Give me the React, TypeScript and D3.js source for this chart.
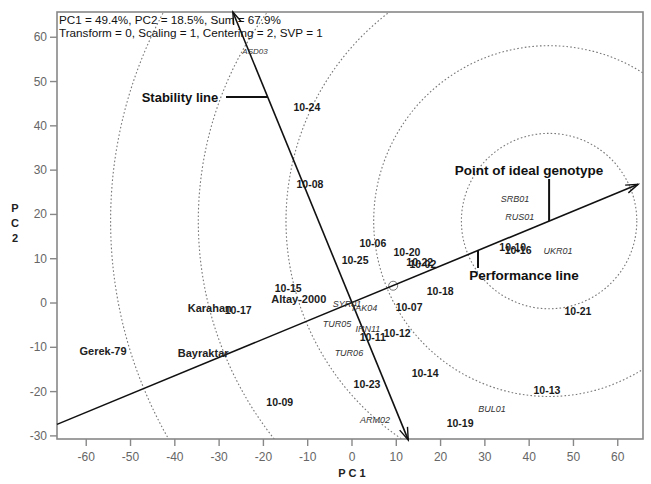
import React from "react";
import * as d3 from "d3";

// ---- Data ----
const headerLines = [
  "PC1 = 49.4%, PC2 = 18.5%, Sum = 67.9%",
  "Transform = 0, Scaling = 1, Centering = 2, SVP = 1",
];
const xTicks = [-60, -50, -40, -30, -20, -10, 0, 10, 20, 30, 40, 50, 60];
const yTicks = [-30, -20, -10, 0, 10, 20, 30, 40, 50, 60];

// breeding lines (bold)
const lineNames = ["10-24", "10-08", "10-06", "10-25", "10-20", "10-02", "10-22", "10-15", "10-17", "10-12", "10-11", "10-07", "10-18", "10-09", "10-23", "10-14", "10-19", "10-13", "10-21", "10-10", "10-16"];
const lineX = [-10.2, -9.5, 4.7, 0.7, 12.4, 16.0, 15.3, -14.4, -25.7, 10.2, 4.7, 12.9, 19.9, -16.3, 3.4, 16.5, 24.4, 44.0, 51.0, 36.3, 37.5];
const lineY = [44.2, 26.9, 13.5, 9.7, 11.5, 8.8, 9.3, 3.4, -1.6, -6.8, -7.7, -0.9, 2.7, -22.3, -18.3, -15.8, -27.1, -19.6, -1.8, 12.6, 12.0];

// cultivars
const cultivarNames = ["Altay-2000", "Karahan", "Bayraktar", "Gerek-79"];
const cultivarX = [-12.0, -32.1, -33.6, -56.2];
const cultivarY = [0.9, -1.1, -11.3, -10.8];

// landraces (italic)
const landraceNames = ["ASD03", "SYR01", "TAK04", "TUR05", "IRN11", "TUR06", "ARM02", "BUL01", "SRB01", "RUS01", "UKR01"];
const landraceX = [-21.9, -1.1, 2.7, -3.4, 3.6, -0.7, 5.2, 31.6, 36.8, 37.9, 46.5];
const landraceY = [56.7, -0.2, -1.1, -4.7, -5.9, -11.3, -26.4, -23.9, 23.5, 19.4, 11.7];

// average environment axis (performance line) and stability line end points
const perfStart = [-66.6, -27.4];
const perfEnd = [64.6, 26.8];
const stabStart = [12.7, -30.9];
const stabEnd = [-26.9, 65.7];
const idealPoint = [44.5, 18.5];
const meanEnv = [9.3, 3.9];
const circleRadii = [19.8, 39.6, 59.4, 79.2, 99.0];

const W = 651, H = 484;
const L = 57, R = 643, T = 12, B = 439;

export default function App() {
  const x = d3.scaleLinear().domain([-66.6, 65.7]).range([L, R]);
  const y = d3.scaleLinear().domain([-30.7, 65.7]).range([B, T]);
  const k = x(1) - x(0);

  const arrow = (from: number[], to: number[]) => {
    const x1 = x(from[0]), y1 = y(from[1]), x2 = x(to[0]), y2 = y(to[1]);
    const a = Math.atan2(y2 - y1, x2 - x1);
    const len = 13, ang = 0.33;
    const p1 = [x2 - len * Math.cos(a - ang), y2 - len * Math.sin(a - ang)];
    const p2 = [x2 - len * Math.cos(a + ang), y2 - len * Math.sin(a + ang)];
    return `M${p1[0]},${p1[1]}L${x2},${y2}L${p2[0]},${p2[1]}`;
  };

  const stabAtY = (py: number) => {
    const v = y.invert(py);
    const t = (v - stabStart[1]) / (stabEnd[1] - stabStart[1]);
    return x(stabStart[0] + t * (stabEnd[0] - stabStart[0]));
  };
  const perfAtX = (px: number) => {
    const v = x.invert(px);
    const t = (v - perfStart[0]) / (perfEnd[0] - perfStart[0]);
    return y(perfStart[1] + t * (perfEnd[1] - perfStart[1]));
  };

  const font = "'Liberation Sans', Arial, sans-serif";

  return (
    <svg width={W} height={H} style={{ position: "absolute", left: 0, top: 0, background: "#fff" }} fontFamily={font}>
      <defs>
        <clipPath id="plot">
          <rect x={L} y={T} width={R - L} height={B - T} />
        </clipPath>
      </defs>
      <rect x={0} y={0} width={W} height={H} fill="#fff" />
      <g clipPath="url(#plot)">
        {circleRadii.map((r, i) => (
          <circle key={i} cx={x(idealPoint[0])} cy={y(idealPoint[1])} r={r * k} fill="none"
            stroke="#777" strokeWidth={1.1} strokeDasharray="1.6 2.2" />
        ))}
        <circle cx={x(meanEnv[0])} cy={y(meanEnv[1])} r={4.5} fill="none" stroke="#777" strokeWidth={1} />
      </g>
      <rect x={L} y={T} width={R - L} height={B - T} fill="none" stroke="#888" strokeWidth={1.6} />
      {headerLines.map((t, i) => (
        <text key={i} x={L + 2} y={T + 12 + i * 13} fontSize={11.7} fill="#111">{t}</text>
      ))}
      <line x1={x(perfStart[0])} y1={y(perfStart[1])} x2={x(perfEnd[0])} y2={y(perfEnd[1])} stroke="#111" strokeWidth={1.6} />
      <path d={arrow(perfStart, perfEnd)} fill="none" stroke="#111" strokeWidth={1.4} />
      <line x1={x(stabStart[0])} y1={y(stabStart[1])} x2={x(stabEnd[0])} y2={y(stabEnd[1])} stroke="#111" strokeWidth={1.6} />
      <path d={arrow(stabStart, stabEnd)} fill="none" stroke="#111" strokeWidth={1.4} />
      <path d={arrow(stabEnd, stabStart)} fill="none" stroke="#111" strokeWidth={1.4} />
      {xTicks.map((t) => (
        <g key={"x" + t}>
          <line x1={x(t)} x2={x(t)} y1={B} y2={B + 7} stroke="#888" strokeWidth={1.4} />
          <text x={x(t)} y={B + 22} fontSize={12} fill="#666" textAnchor="middle">{t}</text>
        </g>
      ))}
      {yTicks.map((t) => (
        <g key={"y" + t}>
          <line x1={L - 7} x2={L} y1={y(t)} y2={y(t)} stroke="#888" strokeWidth={1.4} />
          <text x={L - 10} y={y(t)} fontSize={12} fill="#666" textAnchor="end" dominantBaseline="central">{t}</text>
        </g>
      ))}
      <text x={x(0)} y={477} fontSize={11} fontWeight="bold" fill="#222" textAnchor="middle">P C 1</text>
      {["P", "C", "2"].map((c, i) => (
        <text key={c} x={15} y={208 + i * 15} fontSize={11} fontWeight="bold" fill="#222" textAnchor="middle" dominantBaseline="central">{c}</text>
      ))}
      {lineNames.map((n, i) => (
        <text key={n} x={x(lineX[i])} y={y(lineY[i])} fontSize={10.5} fontWeight="bold" fill="#1a1a1a"
          textAnchor="middle" dominantBaseline="central">{n}</text>
      ))}
      {cultivarNames.map((n, i) => (
        <text key={n} x={x(cultivarX[i])} y={y(cultivarY[i])} fontSize={11} fontWeight="bold" fill="#222"
          textAnchor="middle" dominantBaseline="central">{n}</text>
      ))}
      {landraceNames.map((n, i) => (
        <text key={n} x={x(landraceX[i])} y={y(landraceY[i])} fontSize={i === 0 ? 8 : 9} fontStyle="italic" fill="#333"
          textAnchor="middle" dominantBaseline="central">{n}</text>
      ))}
      <text x={180} y={97} fontSize={13} fontWeight="bold" fill="#111" textAnchor="middle" dominantBaseline="central">Stability line</text>
      <line x1={226} x2={stabAtY(97)} y1={97} y2={97} stroke="#111" strokeWidth={2} />
      <text x={529} y={170} fontSize={13.5} fontWeight="bold" fill="#111" textAnchor="middle" dominantBaseline="central">Point of ideal genotype</text>
      <line x1={x(idealPoint[0])} x2={x(idealPoint[0])} y1={179} y2={y(idealPoint[1])} stroke="#111" strokeWidth={2} />
      <text x={524} y={275} fontSize={13.5} fontWeight="bold" fill="#111" textAnchor="middle" dominantBaseline="central">Performance line</text>
      <line x1={478} x2={478} y1={perfAtX(478)} y2={268} stroke="#111" strokeWidth={2} />
    </svg>
  );
}
